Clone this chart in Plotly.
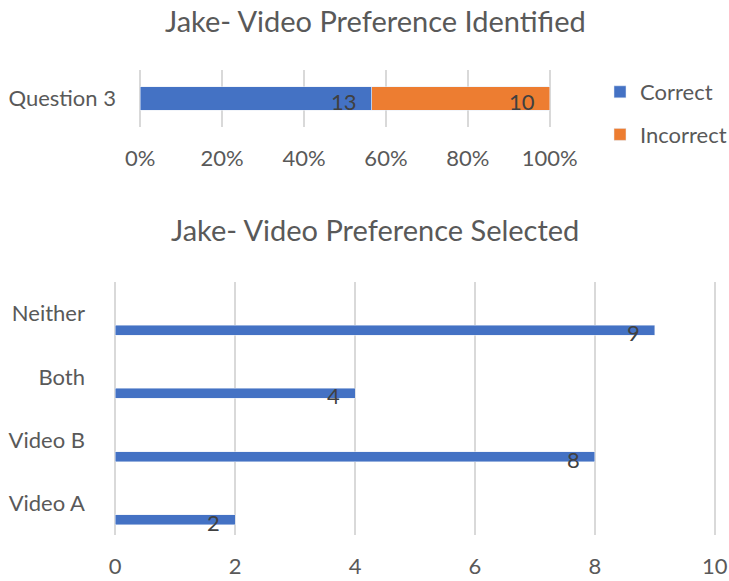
import plotly.graph_objects as go

# ---- data ----
top_title = "Jake- Video Preference Identified"
top_category = ["Question 3"]
correct_vals = [13]
incorrect_vals = [10]
top_ticks = [0, 20, 40, 60, 80, 100]

bottom_title = "Jake- Video Preference Selected"
bottom_categories = ["Video A", "Video B", "Both", "Neither"]
bottom_values = [2, 8, 4, 9]
bottom_ticks = [0, 2, 4, 6, 8, 10]

FONT = "Lato"
TXT = "#595959"
LBL = "#404040"
GRID = "#d9d9d9"
BLUE = "#4472C4"
ORANGE = "#ED7D31"

totals = [c + i for c, i in zip(correct_vals, incorrect_vals)]
correct_pct = [c / t * 100 for c, t in zip(correct_vals, totals)]
incorrect_pct = [i / t * 100 for i, t in zip(incorrect_vals, totals)]

fig = go.Figure()

fig.add_trace(go.Bar(
    y=top_category, x=correct_pct, orientation="h", name="Correct",
    marker=dict(color=BLUE), width=0.42, legendgroup="c",
    customdata=correct_vals, hovertemplate="Correct: %{customdata}<extra></extra>",
    xaxis="x", yaxis="y"))
fig.add_trace(go.Bar(
    y=top_category, x=incorrect_pct, orientation="h", name="Incorrect",
    marker=dict(color=ORANGE), width=0.42, legendgroup="i",
    customdata=incorrect_vals, hovertemplate="Incorrect: %{customdata}<extra></extra>",
    xaxis="x", yaxis="y"))

fig.add_trace(go.Bar(
    y=bottom_categories, x=bottom_values, orientation="h", name="Count",
    marker=dict(color=BLUE), width=0.16, offset=-0.34, showlegend=False,
    xaxis="x2", yaxis="y2"))

annotations = []
# data labels top
cum = 0
for v, p in zip([correct_vals[0], incorrect_vals[0]], [correct_pct[0], incorrect_pct[0]]):
    cum += p
    annotations.append(dict(
        x=cum, y=top_category[0], xref="x", yref="y",
        text=str(v), showarrow=False, xanchor="right", yanchor="middle",
        xshift=-13, yshift=-3, font=dict(family=FONT, size=22, color=LBL)))
# data labels bottom
for c, v in zip(bottom_categories, bottom_values):
    annotations.append(dict(
        x=v, y=c, xref="x2", yref="y2", text=str(v), showarrow=False,
        xanchor="right", yanchor="middle", xshift=-13, yshift=-19,
        font=dict(family=FONT, size=22, color=LBL)))
# titles
annotations.append(dict(
    x=375 / 729, y=1 - 20 / 581, xref="paper", yref="paper", text=top_title,
    showarrow=False, xanchor="center", yanchor="middle",
    font=dict(family=FONT, size=29, color=TXT)))
annotations.append(dict(
    x=375 / 729, y=1 - 230 / 581, xref="paper", yref="paper", text=bottom_title,
    showarrow=False, xanchor="center", yanchor="middle",
    font=dict(family=FONT, size=29, color=TXT)))

axis_font = dict(family=FONT, size=22, color=TXT)

fig.update_layout(
    width=729, height=581,
    margin=dict(l=0, r=0, t=0, b=0, autoexpand=False),
    paper_bgcolor="white", plot_bgcolor="white",
    barmode="stack",
    font=dict(family=FONT, color=TXT),
    annotations=annotations,
    showlegend=True,
    legend=dict(
        x=600 / 729, y=1 - 71 / 581, xanchor="left", yanchor="top",
        traceorder="grouped", tracegroupgap=11,
        font=dict(family=FONT, size=22, color=TXT),
        bgcolor="rgba(0,0,0,0)"),
    xaxis=dict(
        domain=[139 / 729, 551 / 729], anchor="y", range=[-0.3, 100.3],
        tickvals=top_ticks, ticktext=[f"{t}%" for t in top_ticks],
        showgrid=True, gridcolor=GRID, gridwidth=2, zeroline=False,
        showline=False, ticks="", ticklabelstandoff=16, tickfont=axis_font,
        automargin=False),
    yaxis=dict(
        domain=[1 - 127 / 581, 1 - 70 / 581], anchor="x",
        type="category", showgrid=False, zeroline=False, showline=False,
        ticks="", ticklabelstandoff=22, tickfont=axis_font, automargin=False),
    xaxis2=dict(
        domain=[114 / 729, 716 / 729], anchor="y2", range=[-0.02, 10.02],
        tickvals=bottom_ticks, showgrid=True, gridcolor=GRID, gridwidth=2,
        zeroline=False, showline=False, ticks="", ticklabelstandoff=16,
        tickfont=axis_font, automargin=False),
    yaxis2=dict(
        domain=[1 - 535 / 581, 1 - 282 / 581], anchor="x2",
        type="category", categoryorder="array", categoryarray=bottom_categories,
        range=[-0.5, 3.5], showgrid=False, zeroline=False, showline=False,
        ticks="", ticklabelstandoff=28, tickfont=axis_font, automargin=False),
)

fig.write_html("out.html")
